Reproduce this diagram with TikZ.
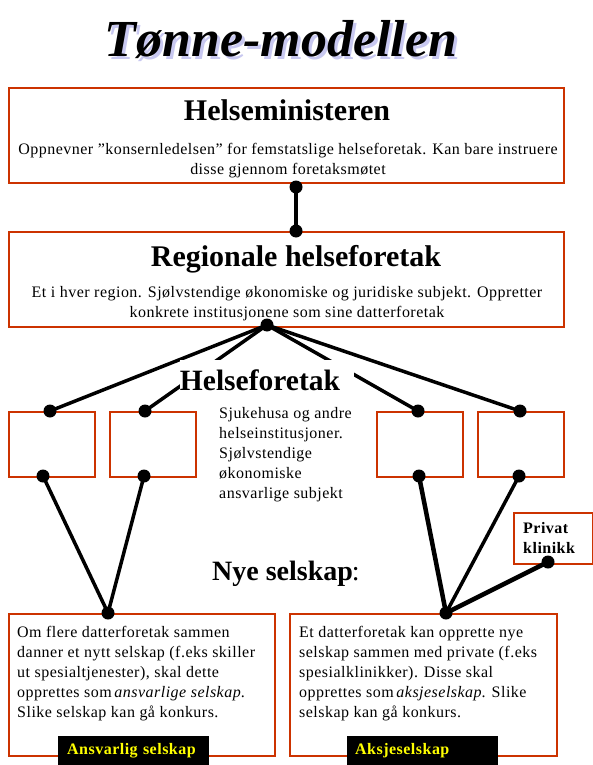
\documentclass[tikz,border=0pt]{standalone}
\usepackage{fontspec}
\setmainfont{Liberation Serif}
\newfontfamily\bodyfont[LetterSpace=3]{Liberation Serif}
\begin{document}
\begin{tikzpicture}[x=1pt,y=-1pt]
\definecolor{boxred}{RGB}{204,51,0}
\definecolor{shadowblue}{RGB}{200,200,240}
\definecolor{labelyellow}{RGB}{255,255,0}
\tikzset{
  frame/.style={draw=boxred, line width=2pt, inner sep=0pt, anchor=north west},
  conn/.style={line width=3.5pt, black},
  dotc/.style={circle, fill=black, inner sep=0pt, minimum size=13pt},
  body/.style={font=\bodyfont\fontsize{16}{20}\selectfont, inner sep=0pt},
  head/.style={font=\fontsize{28}{32}\selectfont\bfseries, inner sep=0pt, anchor=base},
  tag/.style={fill=black, text=labelyellow, font=\bodyfont\fontsize{16}{20}\selectfont\bfseries,
     inner sep=0pt, anchor=north west, minimum height=29pt, text width=151pt}
}
\useasboundingbox (0,0) rectangle (593,765);
% title
\node[font=\fontsize{52}{56}\selectfont\bfseries\itshape, text=shadowblue, inner sep=0pt, anchor=base] (titleshadow) at (284,60) {Tønne-modellen};
\node[font=\fontsize{52}{56}\selectfont\bfseries\itshape, inner sep=0pt, anchor=base] (title) at (281,57) {Tønne-modellen};
% boxes
\node[frame, minimum width=555pt, minimum height=95pt] (minbox) at (8,87) {};
\node[frame, minimum width=555pt, minimum height=95pt] (regbox) at (8,231) {};
\node[frame, minimum width=86pt, minimum height=65pt] (boxA) at (8,411) {};
\node[frame, minimum width=86pt, minimum height=65pt] (boxB) at (109,411) {};
\node[frame, minimum width=86pt, minimum height=65pt] (boxC) at (376,411) {};
\node[frame, minimum width=86pt, minimum height=65pt] (boxD) at (477,411) {};
\node[frame, minimum width=79pt, minimum height=51pt] (privbox) at (513,512) {};
\node[frame, minimum width=266pt, minimum height=142pt] (boxE) at (8,613) {};
\node[frame, minimum width=267pt, minimum height=142pt] (boxF) at (289,613) {};
% dots
\node[dotc] (m1) at (296,187) {};
\node[dotc] (m2) at (296,231) {};
\node[dotc] (hub) at (267,325) {};
\node[dotc] (aT) at (50,411) {};
\node[dotc] (bT) at (145,411) {};
\node[dotc] (cT) at (418,411) {};
\node[dotc] (dT) at (520,411) {};
\node[dotc] (aB) at (43,476) {};
\node[dotc] (bB) at (144,476) {};
\node[dotc] (cB) at (419,476) {};
\node[dotc] (dB) at (519,476) {};
\node[dotc] (pk) at (548,562) {};
\node[dotc] (eT) at (108,613) {};
\node[dotc] (fT) at (446,613) {};
% connectors
\draw[conn, line width=4pt] (m1.center) -- (m2.center);
\draw[conn] (hub.center) -- (aT.center);
\draw[conn] (hub.center) -- (bT.center);
\draw[conn] (hub.center) -- (cT.center);
\draw[conn] (hub.center) -- (dT.center);
\draw[conn] (aB.center) -- (eT.center);
\draw[conn] (bB.center) -- (eT.center);
\draw[conn, line width=4.5pt] (cB.center) -- (fT.center);
\draw[conn] (dB.center) -- (fT.center);
\draw[conn, line width=4.5pt] (pk.center) -- (fT.center);
% mask behind Helseforetak label
\node[fill=white, inner sep=0pt, minimum width=174pt, minimum height=36pt] (hfmask) at (267,378) {};
% headings
\node[head, font=\fontsize{30}{34}\selectfont\bfseries] (minhead) at (287,121) {Helseministeren};
\node[head, font=\fontsize{30}{34}\selectfont\bfseries] (reghead) at (296,266) {Regionale helseforetak};
\node[head, font=\fontsize{29.5}{34}\selectfont\bfseries] (hfhead) at (260,390) {Helseforetak};
\node[head, anchor=base west] (nyehead) at (212,580) {Nye selskap\mdseries\kern-1pt:};
% body texts
\node[body, anchor=north, align=center] (mintext) at (288,143) {Oppnevner ”konsernledelsen” for femstatslige helseforetak. Kan bare instruere\\disse gjennom foretaksmøtet};
\node[body, anchor=north, align=center] (regtext) at (287,286) {Et i hver region. Sjølvstendige økonomiske og juridiske subjekt. Oppretter\\konkrete institusjonene som sine datterforetak};
\node[body, anchor=north west, align=left] (hftext) at (219,407) {Sjukehusa og andre\\helseinstitusjoner.\\Sjølvstendige\\økonomiske\\ansvarlige subjekt};
\node[body, anchor=north west, align=left, font=\bodyfont\fontsize{16}{20}\selectfont\bfseries] (privtext) at (523,522) {Privat\\klinikk};
\node[body, anchor=north west, align=left] (etext) at (17,626) {Om flere datterforetak sammen\\danner et nytt selskap (f.eks skiller\\ut spesialtjenester), skal dette\\opprettes som\,\textit{ansvarlige selskap}.\\Slike selskap kan gå konkurs.};
\node[body, anchor=north west, align=left] (ftext) at (299,626) {Et datterforetak kan opprette nye\\selskap sammen med private (f.eks\\spesialklinikker). Disse skal\\opprettes som\,\textit{aksjeselskap}. Slike\\selskap kan gå konkurs.};
% tags
\node[tag] (tagE) at (58,736) {\hspace*{9pt}Ansvarlig selskap};
\node[tag] (tagF) at (347,736) {\hspace*{8pt}Aksjeselskap};
\end{tikzpicture}
\end{document}
